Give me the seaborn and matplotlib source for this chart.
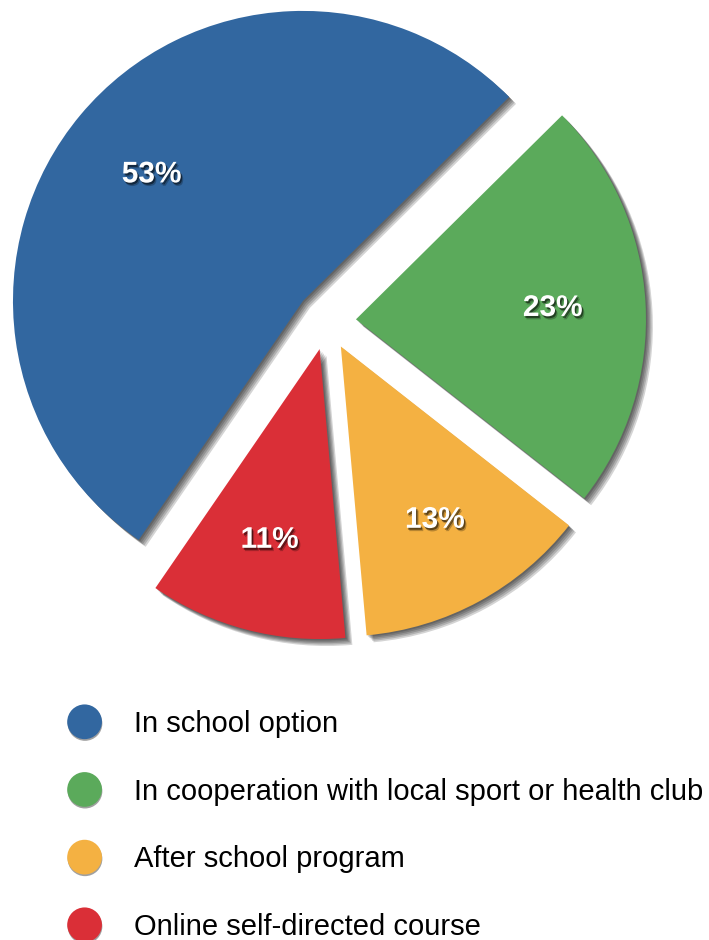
import matplotlib
matplotlib.use("Agg")
import matplotlib.pyplot as plt
import matplotlib.patheffects as pe
from matplotlib.lines import Line2D
import seaborn as sns

# ---- data ----
categories = [
    "In school option",
    "In cooperation with local sport or health club",
    "After school program",
    "Online self-directed course",
]
values = [53, 23, 13, 11]
colors = ["#3267a0", "#5baa5b", "#f4b142", "#da2f37"]

# ---- style ----
sns.set_theme(style="white")
plt.rcParams["font.family"] = ["Liberation Sans", "DejaVu Sans"]

W, H, DPI = 709, 940, 100
fig = plt.figure(figsize=(W / DPI, H / DPI), dpi=DPI)
ax = fig.add_axes([0, 0, 1, 1])
palette = sns.color_palette(colors)

wedges, texts, autotexts = ax.pie(
    values,
    colors=palette,
    startangle=235.5,
    counterclock=False,
    explode=[0.108, 0.1, 0.1, 0.1],
    autopct=lambda p: f"{p:.0f}%",
    pctdistance=0.68,
    radius=1,
    wedgeprops=dict(linewidth=0),
    textprops=dict(color="white", fontsize=21.5, fontweight="bold"),
)

wedge_shadow = [pe.SimplePatchShadow(offset=(o, -o), shadow_rgbFace="black", alpha=0.17)
                for o in (1, 2, 3, 4, 5)] + [pe.Normal()]
for w in wedges:
    w.set_path_effects(wedge_shadow)
for t in autotexts:
    t.set_path_effects([
        pe.SimplePatchShadow(offset=(1.8, -2.4), shadow_rgbFace="black", alpha=0.25),
        pe.SimplePatchShadow(offset=(1, -1.4), shadow_rgbFace="black", alpha=0.5),
        pe.Normal(),
    ])

# place the pie: radius 290 px, centre at (327, 321) px from top-left
R, cx, cy = 290.0, 327.0, 321.0
ax.set_xlim(-cx / R, (W - cx) / R)
ax.set_ylim(-(H - cy) / R, cy / R)
ax.set_aspect("equal")
ax.axis("off")

# ---- legend ----
marker_pe = [pe.SimplePatchShadow(offset=(0.3, -1.2), shadow_rgbFace="#888888", alpha=0.8), pe.Normal()]
handles = [
    Line2D([], [], marker="o", linestyle="none", markersize=25,
           markerfacecolor=c, markeredgecolor=c, markeredgewidth=0, path_effects=marker_pe)
    for c in palette
]
fig.legend(
    handles, categories,
    loc="upper left", bbox_to_anchor=(70 / W, 1 - 710 / H),
    frameon=False, fontsize=21.0, labelcolor="black",
    handlelength=1.0, handletextpad=1.2, labelspacing=1.36,
    borderpad=0, borderaxespad=0,
)

fig.savefig("out.png", dpi=DPI, facecolor="white")
